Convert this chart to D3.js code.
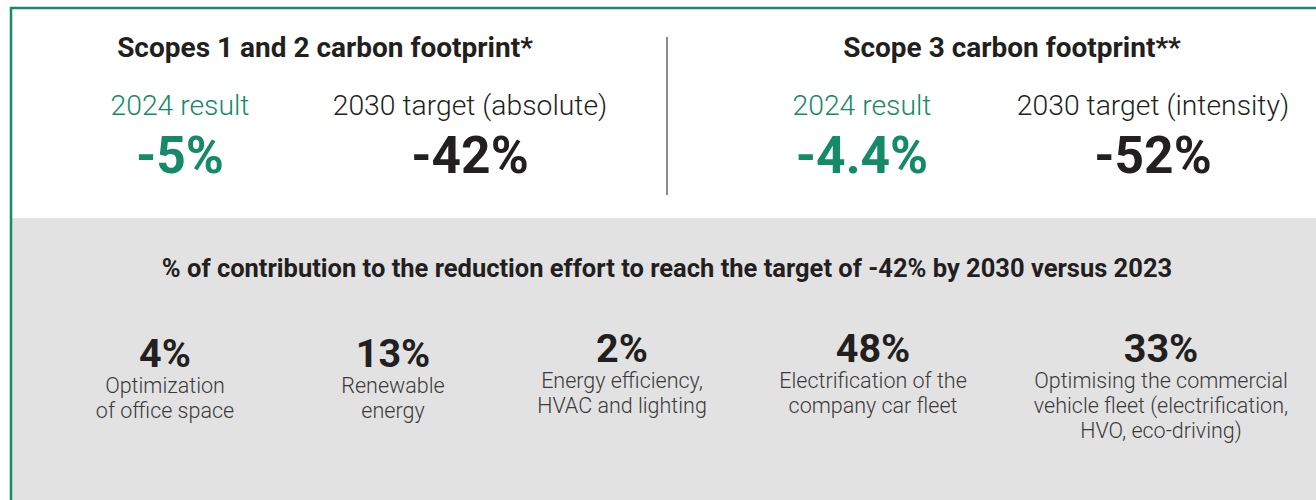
<!DOCTYPE html>
<html>
<head>
<meta charset="utf-8">
<script src="https://cdn.jsdelivr.net/npm/d3@7"></script>
<style>
  html, body { margin: 0; padding: 0; background: #ffffff; }
  svg { display: block; font-family: Roboto, "Noto Sans", sans-serif; }
</style>
</head>
<body>
<svg id="chart" width="1316" height="500"></svg>
<script>
// ---- data ----
const scopeTitles = ["Scopes 1 and 2 carbon footprint*", "Scope 3 carbon footprint**"];
const resultLabels = ["2024 result", "2024 result"];
const resultValues = [-5, -4.4];
const targetLabels = ["2030 target (absolute)", "2030 target (intensity)"];
const targetValues = [-42, -52];
const subtitle = "% of contribution to the reduction effort to reach the target of -42% by 2030 versus 2023";
const leverValues = [4, 13, 2, 48, 33];
const leverLabels = [
  ["Optimization", "of office space"],
  ["Renewable", "energy"],
  ["Energy efficiency,", "HVAC and lighting"],
  ["Electrification of the", "company car fleet"],
  ["Optimising the commercial", "vehicle fleet (electrification,", "HVO, eco-driving)"]
];

// ---- layout ----
const W = 1316, H = 500;
const green = "#148a68", dark = "#231f20", grey = "#3a3a3a";
const svg = d3.select("#chart");

// frame
svg.append("rect").attr("x", 12).attr("y", 218).attr("width", W - 12).attr("height", H - 218).attr("fill", "#e2e2e2");
svg.append("line").attr("x1", 10).attr("x2", W).attr("y1", 8).attr("y2", 8).attr("stroke", green).attr("stroke-width", 2.5);
svg.append("line").attr("x1", 11).attr("x2", 11).attr("y1", 7).attr("y2", H).attr("stroke", green).attr("stroke-width", 2.5);
svg.append("line").attr("x1", 667).attr("x2", 667).attr("y1", 37).attr("y2", 195).attr("stroke", "#666").attr("stroke-width", 1.5);

const fmt = v => (v < 0 ? "-" : "") + d3.format("")(Math.abs(v)) + "%";

// top panels: each panel has a result column and a target column
const panelX = d3.scaleOrdinal().domain([0, 1]).range([325, 1012]);
const colX = [[180, 470], [862, 1153]];

scopeTitles.forEach((t, i) => {
  svg.append("text").attr("x", panelX(i)).attr("y", 57).attr("text-anchor", "middle")
    .attr("font-size", 28).attr("font-weight", 700).attr("fill", dark).text(t);
  svg.append("text").attr("x", colX[i][0]).attr("y", 115).attr("text-anchor", "middle")
    .attr("font-size", 28.3).attr("font-weight", 300).attr("fill", green).text(resultLabels[i]);
  svg.append("text").attr("x", colX[i][1]).attr("y", 115).attr("text-anchor", "middle")
    .attr("font-size", 28.3).attr("font-weight", 300).attr("fill", dark).text(targetLabels[i]);
  svg.append("text").attr("x", colX[i][0]).attr("y", 173).attr("text-anchor", "middle")
    .attr("font-size", 51.5).attr("font-weight", 700).attr("fill", green).text(fmt(resultValues[i]));
  svg.append("text").attr("x", colX[i][1]).attr("y", 173).attr("text-anchor", "middle")
    .attr("font-size", 51.5).attr("font-weight", 700).attr("fill", dark).text(fmt(targetValues[i]));
});

svg.append("text").attr("x", 667).attr("y", 277).attr("text-anchor", "middle")
  .attr("font-size", 25.5).attr("font-weight", 700).attr("fill", dark).text(subtitle);

const leverX = [165, 393, 622, 873, 1161];
const leverBase = [367, 367, 362, 362, 362];
leverValues.forEach((v, i) => {
  const g = svg.append("g");
  g.append("text").attr("x", leverX[i]).attr("y", leverBase[i]).attr("text-anchor", "middle")
    .attr("font-size", 39.5).attr("font-weight", 700).attr("fill", dark).text(v + "%");
  leverLabels[i].forEach((l, j) => {
    g.append("text").attr("x", leverX[i]).attr("y", leverBase[i] + 26 + j * 25.2).attr("text-anchor", "middle")
      .attr("font-size", 21.5).attr("font-weight", 300).attr("fill", grey).text(l);
  });
});
</script>
</body>
</html>
